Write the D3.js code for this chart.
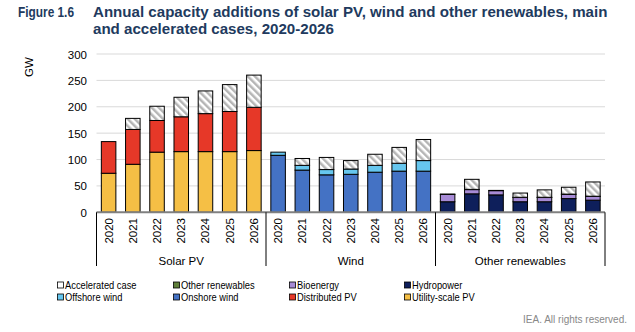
<!DOCTYPE html>
<html>
<head>
<meta charset="utf-8">
<script src="https://cdn.jsdelivr.net/npm/d3@7/dist/d3.min.js"></script>
<style>
  html, body { margin: 0; padding: 0; background: #fff; }
  svg { display: block; font-family: "Liberation Sans", Arial, sans-serif; }
</style>
</head>
<body>
<svg id="chart" width="635" height="332"></svg>
<script>
// Annual capacity additions (GW), main case stacks plus accelerated-case increment
const years = ["2020", "2021", "2022", "2023", "2024", "2025", "2026"];
const groups = ["Solar PV", "Wind", "Other renewables"];

const utilityPV     = [74, 91, 114, 115, 115, 115, 117];
const distributedPV = [60, 66, 60, 66, 72, 76, 82];
const solarAccel    = [0, 21, 27, 37, 43, 51, 61];

const onshoreWind   = [108, 80, 71, 72, 76, 78, 78];
const offshoreWind  = [6, 9, 10, 10, 13, 15, 20];
const windAccel     = [0, 13, 23, 16, 21, 30, 40];

const hydropower    = [20, 35, 33, 20, 20, 26, 23];
const bioenergy     = [14, 8, 8, 8, 8, 8, 7];
const otherRen      = [0.5, 0.5, 0.5, 0.5, 0.5, 0.5, 0.5];
const otherAccel    = [0, 19, 0, 8, 14, 13, 27];

const yTicks = [0, 50, 100, 150, 200, 250, 300];

const colors = {
  "Accelerated case": "url(#hatch)",
  "Other renewables": "#5f7f3a",
  "Bioenergy": "#a78bd6",
  "Hydropower": "#0e1f5b",
  "Offshore wind": "#66c6ee",
  "Onshore wind": "#4472c4",
  "Distributed PV": "#e63828",
  "Utility-scale PV": "#f5bf45"
};
const legendOrder = [
  ["Accelerated case", "Other renewables", "Bioenergy", "Hydropower"],
  ["Offshore wind", "Onshore wind", "Distributed PV", "Utility-scale PV"]
];

// stacks per group, bottom to top
const stacks = [
  [["Utility-scale PV", utilityPV], ["Distributed PV", distributedPV], ["Accelerated case", solarAccel]],
  [["Onshore wind", onshoreWind], ["Offshore wind", offshoreWind], ["Accelerated case", windAccel]],
  [["Hydropower", hydropower], ["Bioenergy", bioenergy], ["Other renewables", otherRen], ["Accelerated case", otherAccel]]
];

const svg = d3.select("#chart");

// diagonal hatch for the accelerated case
const defs = svg.append("defs");
const pat = defs.append("pattern").attr("id", "hatch")
  .attr("patternUnits", "userSpaceOnUse").attr("width", 5).attr("height", 5)
  .attr("patternTransform", "rotate(-45)");
pat.append("rect").attr("width", 5).attr("height", 5).attr("fill", "#fff");
pat.append("rect").attr("x", 0).attr("y", 0).attr("width", 2.5).attr("height", 5).attr("fill", "#b5b5b5");

// title
const titleColor = "#213a5e";
svg.append("text").attr("x", 18).attr("y", 17).attr("fill", titleColor)
  .attr("font-size", 15).attr("font-weight", "bold")
  .attr("textLength", 56).attr("lengthAdjust", "spacingAndGlyphs").text("Figure 1.6");
svg.append("text").attr("x", 93).attr("y", 17).attr("fill", titleColor)
  .attr("font-size", 15.1).attr("font-weight", "bold")
  .text("Annual capacity additions of solar PV, wind and other renewables, main");
svg.append("text").attr("x", 93).attr("y", 34).attr("fill", titleColor)
  .attr("font-size", 15.1).attr("font-weight", "bold")
  .text("and accelerated cases, 2020-2026");

// scales
const keys = [];
groups.forEach((g, gi) => years.forEach((y, yi) => keys.push({ g: gi, y: yi, key: g + "|" + y })));
const x0 = 96.5, x1 = 605;
const x = d3.scaleBand().domain(keys.map(k => k.key)).range([x0, x1]).paddingInner(0.4).paddingOuter(0.2);
const y = d3.scaleLinear().domain([0, 300]).range([212.3, 54]);

// gridlines
svg.append("g").selectAll("line").data(yTicks.filter(t => t > 0)).join("line")
  .attr("x1", x0).attr("x2", x1)
  .attr("y1", d => y(d)).attr("y2", d => y(d))
  .attr("stroke", "#d9d9d9").attr("stroke-width", 1);

// y axis labels
const yAxis = d3.axisLeft(y).tickValues(yTicks).tickSize(0).tickPadding(0);
const ya = svg.append("g").attr("transform", `translate(87,0)`).call(yAxis);
ya.select(".domain").remove();
ya.selectAll("text").attr("font-size", 11.5).attr("fill", "#000")
  .attr("font-family", "Liberation Sans, Arial, sans-serif").attr("dy", "0.35em");

svg.append("text").attr("transform", "translate(33,67) rotate(-90)")
  .attr("text-anchor", "middle").attr("font-size", 11.5).text("GW");

// bars
const barG = svg.append("g");
keys.forEach(k => {
  let base = 0;
  stacks[k.g].forEach(([name, arr]) => {
    const v = arr[k.y];
    if (v <= 0) return;
    barG.append("rect")
      .attr("x", x(k.key)).attr("width", x.bandwidth())
      .attr("y", y(base + v)).attr("height", y(base) - y(base + v))
      .attr("fill", colors[name]).attr("stroke", "#000").attr("stroke-width", 1);
    base += v;
  });
});

// baseline
svg.append("line").attr("x1", x0).attr("x2", x1).attr("y1", y(0)).attr("y2", y(0))
  .attr("stroke", "#808080").attr("stroke-width", 2);

// category axis: year labels, group separators and group names
const xa = svg.append("g");
xa.selectAll("text.yr").data(keys).join("text").attr("class", "yr")
  .attr("transform", d => `translate(${x(d.key) + x.bandwidth() / 2 + 4},218) rotate(-90)`)
  .attr("text-anchor", "end").attr("font-size", 11.5).text(d => years[d.y]);

const gw = (x1 - x0) / 3;
const seps = d3.range(4).map(i => x0 + i * gw);
xa.selectAll("line.sep").data(seps).join("line").attr("class", "sep")
  .attr("x1", d => d).attr("x2", d => d).attr("y1", y(0)).attr("y2", 266)
  .attr("stroke", "#000").attr("stroke-width", 1);
xa.selectAll("text.grp").data(groups).join("text").attr("class", "grp")
  .attr("x", (d, i) => x0 + (i + 0.5) * gw).attr("y", 265)
  .attr("text-anchor", "middle").attr("font-size", 11.5).text(d => d);

// legend
const legX = [57, 173, 289, 404];
const legY = [289, 301];
legendOrder.forEach((row, ri) => row.forEach((name, ci) => {
  const g = svg.append("g").attr("transform", `translate(${legX[ci]},${legY[ri]})`);
  g.append("rect").attr("x", 0.5).attr("y", -7).attr("width", 6).attr("height", 6)
    .attr("fill", name === "Accelerated case" ? "#fff" : colors[name])
    .attr("stroke", "#000").attr("stroke-width", 0.8);
  g.append("text").attr("transform", "translate(8,0) scale(0.89,1)")
    .attr("font-size", 10.5).text(name);
}));

// footer
svg.append("text").attr("x", 627).attr("y", 323).attr("text-anchor", "end")
  .attr("font-size", 10).attr("fill", "#888").text("IEA. All rights reserved.");
</script>
</body>
</html>
